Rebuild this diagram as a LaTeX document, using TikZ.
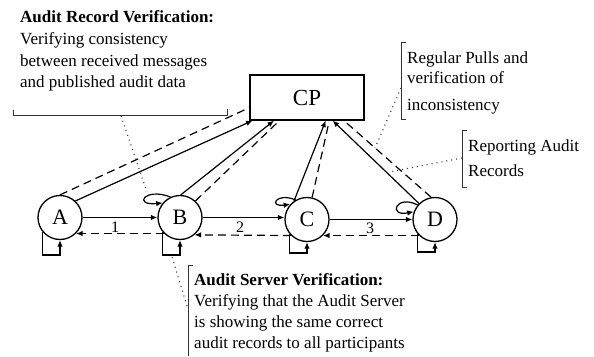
\documentclass[tikz,border=0pt]{standalone}
\usepackage{fontspec}
\setmainfont{Liberation Serif}
\usetikzlibrary{arrows.meta}

\begin{document}
\begin{tikzpicture}[x=1pt,y=-1pt,
  agent/.style={circle, draw, line width=1.3pt, minimum size=44pt, inner sep=0pt,
    font=\fontsize{22}{26}\selectfont},
  hub/.style={rectangle, draw, line width=1.2pt, minimum width=114pt, minimum height=45pt,
    inner sep=0pt, font=\fontsize{23}{27}\selectfont},
  link/.style={line width=1.2pt},
  tip/.style={-{Latex[length=6.5pt,width=5.5pt]}},
  back/.style={line width=1.2pt, dash pattern=on 8pt off 5pt},
  brk/.style={line width=0.8pt, black!80},
  dots/.style={line width=1.1pt, black!80, dash pattern=on 1pt off 4pt},
  num/.style={inner sep=0pt, font=\fontsize{16}{19}\selectfont},
  note/.style={align=left, inner sep=0pt, anchor=north west}]

\useasboundingbox (0,0) rectangle (594,356);

% central party and the four participants
\node[hub] (CP) at (307,97.5) {CP};
\node[agent] (A) at (60,217.5) {A};
\node[agent] (B) at (180,217.5) {B};
\node[agent] (C) at (307,219.5) {C};
\node[agent] (D) at (435,219.5) {D};

% forward messages along the chain
\draw[link,tip] (A.east) -- (B.west);
\draw[link,tip] (B.east) -- (B.east -| C.west);
\draw[link,tip] (C.east) -- (D.west);
\node[num] (n1) at (115,227) {1};
\node[num] (n2) at (240,227) {2};
\node[num] (n3) at (370,228) {3};

% acknowledgements back along the chain
\draw[back,tip] (B.225) -- (A.-45);
\draw[back,tip] (C.225) -- (B.-50);
\draw[back,tip] (D.225) -- (C.-45);

% self loops below each participant
\coordinate (Aloop) at (60,255);
\coordinate (Bloop) at (180,255);
\coordinate (Cloop) at (307,253);
\coordinate (Dloop) at (435,252);
\draw[link,tip] (A.220) |- (Aloop) -- (A.south);
\draw[link,tip] (B.220) |- (Bloop) -- (B.south);
\draw[link,tip] (C.220) |- (Cloop) -- (C.south);
\draw[link,tip] (D.220) |- (Dloop) -- (D.south);

% small curls at the upper left of B, C, D
\draw[link,tip] (B.115) .. controls +(-26,-10) and +(-30,3) .. (B.140);
\draw[link,tip] (C.120) .. controls +(-20,-8) and +(-22,3) .. (C.138);
\draw[link,tip] (D.140) .. controls +(-22,-11) and +(-26,5) .. (D.160);

% reports to CP (solid) and pulls from CP (dashed)
\draw[back] (A.north) -- (CP.190);
\draw[link,tip] (A.47) -- (CP.203);
\draw[link,tip] (B.88) -- (CP.215);
\draw[back,shorten >=4pt] (B.47) -- (CP.220);
\draw[link,tip] (C.125) -- (CP.309);
\draw[back,shorten >=4pt] (C.77) -- (CP.314);
\draw[link,tip] (D.135) -- (CP.318);
\draw[back] (D.100) -- (CP.328);

% annotation: audit record verification
\node[note, font=\fontsize{17}{21.8}\selectfont] (tArv) at (20,10.4)
  {\textbf{Audit Record Verification:}\\Verifying consistency\\between received messages\\and published audit data};
\draw[brk] (13,110) -- (13,115) -- (227,115) -- (227,109);
\coordinate (arvA) at (121,116);
\coordinate (arvB) at (147,192);
\draw[dots] (arvA) -- (arvB);

% annotation: regular pulls
\node[note, font=\fontsize{17}{20.6}\selectfont] (tPull) at (407,51.1)
  {Regular Pulls and\\verification of\\[6.1pt]inconsistency};
\draw[brk] (406,42) -- (401,42) -- (401,119) -- (406,119);
\coordinate (pullA) at (401,88);
\coordinate (pullB) at (375,148);
\draw[dots] (pullA) -- (pullB);

% annotation: reporting audit records
\node[note, font=\fontsize{17}{25.3}\selectfont] (tRep) at (468,139.1)
  {Reporting Audit\\Records};
\draw[brk] (467,130) -- (462,130) -- (462,187) -- (467,187);
\coordinate (repA) at (462,158);
\coordinate (repB) at (389,172);
\draw[dots] (repA) -- (repB);

% annotation: audit server verification
\node[note, font=\fontsize{17}{21}\selectfont] (tSrv) at (194,273.3)
  {\textbf{Audit Server Verification:}\\Verifying that the Audit Server\\is showing the same correct\\audit records to all participants};
\draw[brk] (193,265) -- (188,265) -- (188,356);
\coordinate (srvA) at (187,306);
\coordinate (srvB) at (172,257);
\draw[dots] (srvA) -- (srvB);

\end{tikzpicture}
\end{document}
